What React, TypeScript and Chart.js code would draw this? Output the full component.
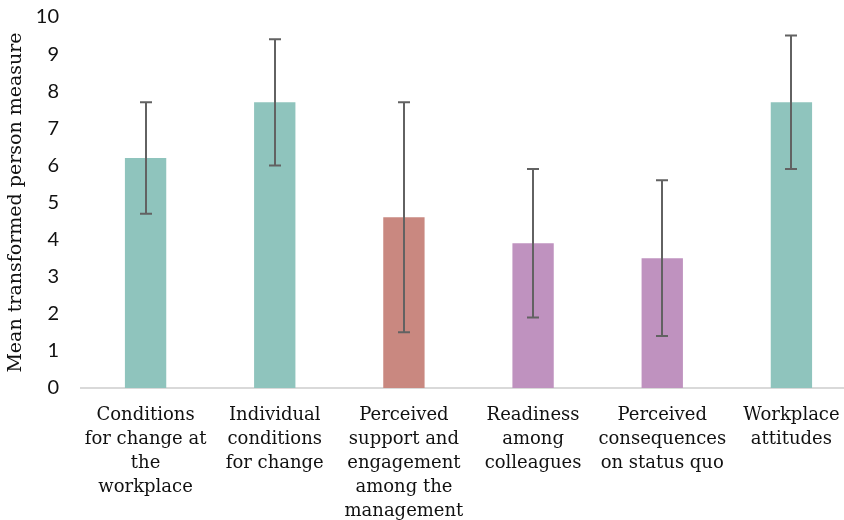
import React, { useEffect, useRef } from "react";
import { Chart, registerables } from "chart.js";

Chart.register(...registerables);

const categories: string[][] = [
  ["Conditions", "for change at", "the", "workplace"],
  ["Individual", "conditions", "for change"],
  ["Perceived", "support and", "engagement", "among the", "management"],
  ["Readiness", "among", "colleagues"],
  ["Perceived", "consequences", "on status quo"],
  ["Workplace", "attitudes"],
];
const means = [6.2, 7.7, 4.6, 3.9, 3.5, 7.7];
const errLow = [4.7, 6.0, 1.5, 1.9, 1.4, 5.9];
const errHigh = [7.7, 9.4, 7.7, 5.9, 5.6, 9.5];
const barColors = ["#8fc4bd", "#8fc4bd", "#c98880", "#bf92bf", "#bf92bf", "#8fc4bd"];
const yTitle = "Mean transformed person measure";

const errorBarPlugin = {
  id: "errorBars",
  afterDatasetsDraw(chart: any) {
    const ctx = chart.ctx;
    const meta = chart.getDatasetMeta(0);
    const y = chart.scales.y;
    ctx.save();
    ctx.strokeStyle = "#626262";
    ctx.lineWidth = 2;
    meta.data.forEach((bar: any, i: number) => {
      const x = Math.round(bar.x);
      const yl = y.getPixelForValue(errLow[i]);
      const yh = y.getPixelForValue(errHigh[i]);
      ctx.beginPath();
      ctx.moveTo(x, yh);
      ctx.lineTo(x, yl);
      ctx.moveTo(x - 6, yh);
      ctx.lineTo(x + 6, yh);
      ctx.moveTo(x - 6, yl);
      ctx.lineTo(x + 6, yl);
      ctx.stroke();
    });
    ctx.restore();
  },
};

export default function App() {
  const ref = useRef<HTMLCanvasElement>(null);
  useEffect(() => {
    if (!ref.current) return;
    const chart = new Chart(ref.current, {
      type: "bar",
      data: {
        labels: categories as any,
        datasets: [
          {
            data: means,
            backgroundColor: barColors,
            categoryPercentage: 1,
            barPercentage: 0.32,
          },
        ],
      },
      options: {
        animation: false,
        responsive: false,
        devicePixelRatio: 1,
        layout: { padding: { top: 17, right: 0, left: 0, bottom: 0 } },
        plugins: { legend: { display: false }, tooltip: { enabled: false } },
        scales: {
          x: {
            grid: { color: "rgba(0,0,0,0)", drawTicks: false },
            border: { display: true, color: "#d9d9d9", width: 2 },
            ticks: {
              color: "#111",
              font: { family: "'DejaVu Serif'", size: 18, lineHeight: 1.34 },
              padding: 15,
              maxRotation: 0,
              autoSkip: false,
            },
            afterFit(scale: any) {
              scale.height = 132;
            },
          },
          y: {
            min: 0,
            max: 10,
            ticks: {
              stepSize: 1,
              color: "#111",
              font: { family: "Lato", size: 20 },
              padding: 22,
            },
            grid: { display: false, drawTicks: false },
            border: { display: false },
            title: {
              display: true,
              text: yTitle,
              color: "#111",
              font: { family: "'DejaVu Serif'", size: 19 },
              padding: { top: 5, bottom: 0 },
            },
            afterFit(scale: any) {
              scale.width = 81;
              scale.paddingTop = 0;
              scale.paddingBottom = 0;
            },
          },
        },
      },
      plugins: [errorBarPlugin],
    });
    return () => chart.destroy();
  }, []);
  return (
    <div
      style={{
        position: "fixed",
        left: 0,
        top: 0,
        width: 844,
        height: 520,
        overflow: "hidden",
        background: "#fff",
      }}
    >
      <canvas ref={ref} width={856} height={520} style={{ display: "block" }} />
    </div>
  );
}
